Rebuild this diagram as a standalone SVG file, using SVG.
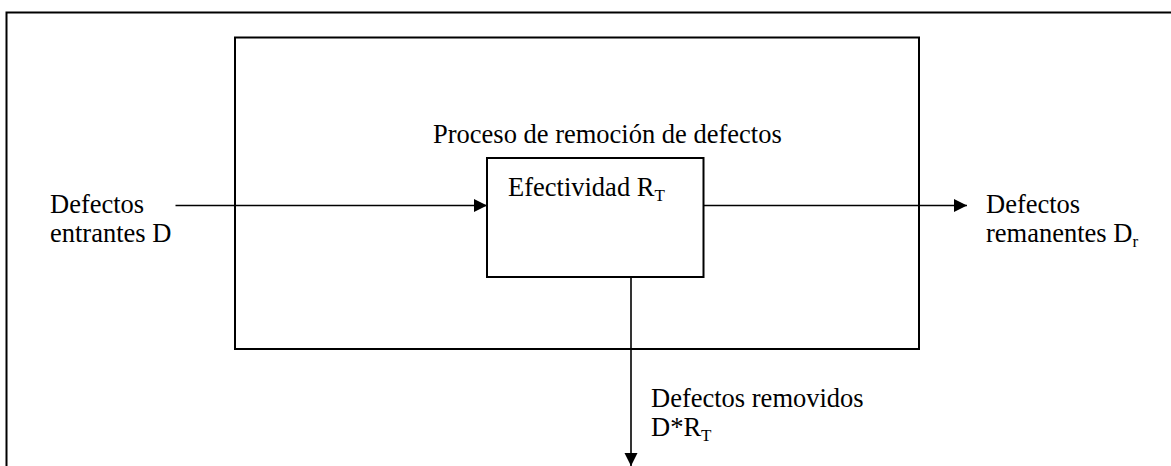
<svg xmlns="http://www.w3.org/2000/svg" width="1171" height="466" viewBox="0 0 1171 466">
<style>
.box{fill:none;stroke:#000;stroke-width:2}
.ln{fill:none;stroke:#000;stroke-width:1.6}
text{font-family:"Liberation Serif","Times New Roman",serif;font-size:26.5px;fill:#000}
.sub{font-size:17px}
</style>
<defs>
<marker id="ah" markerWidth="14" markerHeight="14" refX="13" refY="6.5" orient="auto" markerUnits="userSpaceOnUse">
<path d="M0,0 L13,6.5 L0,13 Z" fill="#000"/>
</marker>
</defs>
<rect width="1171" height="466" fill="#fff"/>
<g id="frame"><path class="box" d="M6.5,480 V12.5 H1180"/></g>
<g id="process">
<rect class="box" x="235" y="37.5" width="684" height="311.5"/>
<text x="433" y="143">Proceso de remoción de defectos</text>
</g>
<g id="effectiveness">
<rect class="box" x="487" y="158" width="216.5" height="119"/>
<text x="508" y="196">Efectividad R<tspan class="sub" dy="5">T</tspan></text>
</g>
<g id="input">
<text x="50" y="213">Defectos</text>
<text x="50" y="242">entrantes D</text>
</g>
<g id="remaining">
<text x="986" y="213">Defectos</text>
<text x="986" y="242">remanentes D<tspan class="sub" dy="5">r</tspan></text>
</g>
<g id="removed">
<text x="651" y="407">Defectos removidos</text>
<text x="651" y="436">D*R<tspan class="sub" dy="5">T</tspan></text>
</g>
<g id="connectors">
<line class="ln" x1="175.5" y1="205.5" x2="487" y2="205.5" marker-end="url(#ah)"/>
<line class="ln" x1="703.5" y1="205.5" x2="967" y2="205.5" marker-end="url(#ah)"/>
<line class="ln" x1="631" y1="277" x2="631" y2="466" marker-end="url(#ah)"/>
</g>
</svg>
